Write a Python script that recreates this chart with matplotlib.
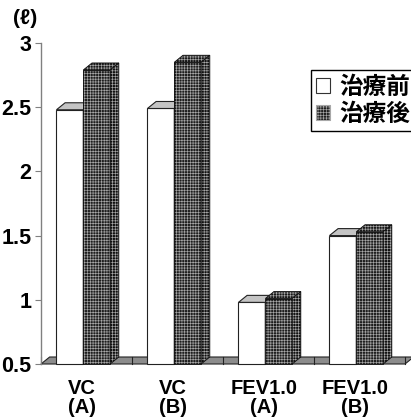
import matplotlib
matplotlib.use('Agg')
import matplotlib.pyplot as plt
from matplotlib.patches import Polygon, Patch
from matplotlib.font_manager import FontProperties

plt.rcParams['font.family'] = ['Liberation Sans', 'Noto Sans CJK JP', 'DejaVu Sans']
plt.rcParams['font.weight'] = 'bold'
plt.rcParams['hatch.linewidth'] = 0.45

categories = ['VC\n(A)', 'VC\n(B)', 'FEV1.0\n(A)', 'FEV1.0\n(B)']
before = [2.48, 2.49, 0.98, 1.50]
after = [2.79, 2.85, 1.01, 1.53]
series_names = ['治療前', '治療後']
y_ticks = [0.5, 1, 1.5, 2, 2.5, 3]
y_tick_labels = ['0.5', '1', '1.5', '2', '2.5', '3']

BASE = 0.5
DX = 0.095      # depth offset in category units
DY = 0.0545     # depth offset in value units
BAR_W = 0.295

WHITE = dict(face='white', top='#c4c4c4', side='#e0e0e0', hatch=None, hc=None)
DARK = dict(face='#1e1e1e', top='#181818', side='#101010', hatch='++++++', hc='#a8a8a8')


def draw_box(ax, x0, top, style):
    w = BAR_W
    faces = [
        ([(x0, BASE), (x0 + w, BASE), (x0 + w, top), (x0, top)], style['face']),
        ([(x0, top), (x0 + w, top), (x0 + w + DX, top + DY), (x0 + DX, top + DY)], style['top']),
        ([(x0 + w, BASE), (x0 + w + DX, BASE + DY), (x0 + w + DX, top + DY), (x0 + w, top)], style['side']),
    ]
    for pts, fc in faces:
        if style['hatch']:
            ax.add_patch(Polygon(pts, closed=True, facecolor=fc, edgecolor=style['hc'],
                                 hatch=style['hatch'], linewidth=0, clip_on=False))
            ax.add_patch(Polygon(pts, closed=True, facecolor='none', edgecolor='#111111',
                                 linewidth=0.6, clip_on=False))
        else:
            ax.add_patch(Polygon(pts, closed=True, facecolor=fc, edgecolor='#222222',
                                 linewidth=0.8, clip_on=False))


fig = plt.figure(figsize=(4.11, 4.20), dpi=100)
ax = fig.add_axes([41 / 411, 56 / 420, 364 / 411, 321 / 420])
ax.set_xlim(0, len(categories))
ax.set_ylim(0.5, 3.0)

# floor
n = len(categories)
ax.add_patch(Polygon([(0, BASE), (n, BASE), (n + DX, BASE + DY), (DX, BASE + DY)],
                     closed=True, facecolor='#8c8c8c', edgecolor='#222222',
                     linewidth=0.8, clip_on=False))
for i in range(n + 1):
    ax.plot([i, i], [BASE, BASE + DY], color='#222222', linewidth=0.8, clip_on=False)

for i, (b, a) in enumerate(zip(before, after)):
    draw_box(ax, i + 0.17, b, WHITE)
    draw_box(ax, i + 0.465, a, DARK)

for side in ['top', 'right', 'bottom']:
    ax.spines[side].set_visible(False)
ax.spines['left'].set_color('#808080')
ax.spines['left'].set_linewidth(1.0)

ax.set_yticks(y_ticks)
ax.set_yticklabels(y_tick_labels)
ax.tick_params(axis='y', length=4, color='#808080', labelsize=15.5, pad=3)
ax.set_xticks([i + 0.45 for i in range(n)])
ax.set_xticklabels(categories, linespacing=0.95)
ax.tick_params(axis='x', length=0, labelsize=14.5, pad=11)
for lbl in ax.get_xticklabels() + ax.get_yticklabels():
    lbl.set_fontweight('bold')

fig.text(25 / 411, 1 - 19 / 420, '(ℓ)', ha='center', va='center',
         fontsize=15, fontweight='bold')

handles = [Patch(facecolor='white', edgecolor='#333333', linewidth=0.8),
           Patch(facecolor='#1e1e1e', edgecolor='#a8a8a8', hatch='++++++', linewidth=0.8)]
leg = fig.legend(handles, series_names, loc='upper left',
                 bbox_to_anchor=(311 / 411, 1 - 70 / 420),
                 prop=FontProperties(family=['Noto Sans CJK JP'], weight='bold', size=17),
                 frameon=True, fancybox=False, edgecolor='black', framealpha=1,
                 handlelength=0.6, handleheight=0.6, handletextpad=0.4,
                 borderpad=0.2, labelspacing=0.15, borderaxespad=0)
leg.get_frame().set_linewidth(1.0)

fig.savefig('out.png', dpi=100)
